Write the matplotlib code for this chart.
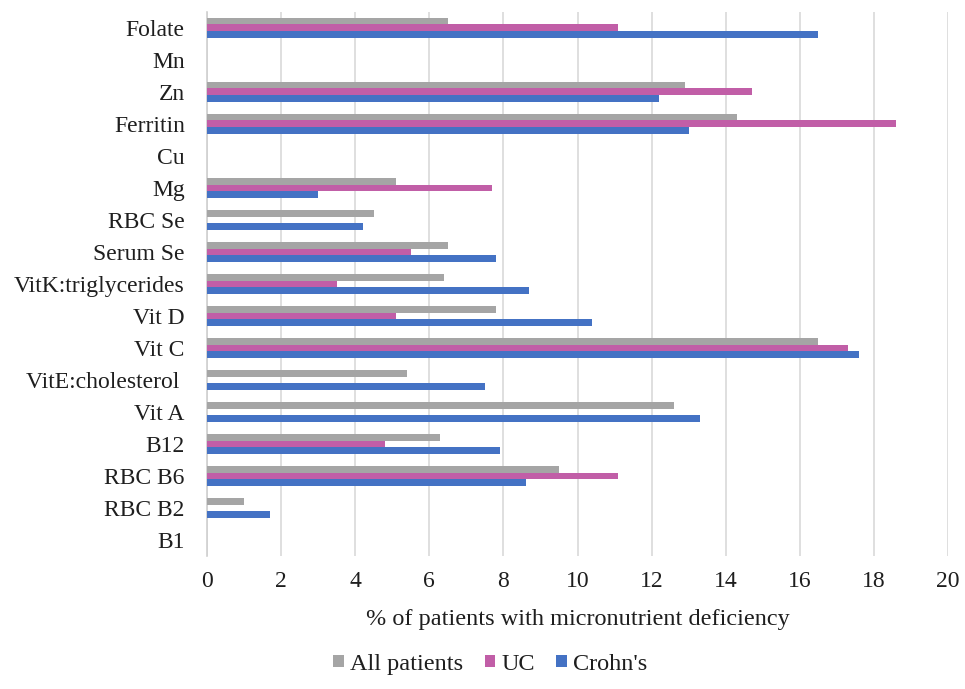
import numpy as np
import matplotlib.pyplot as plt

plt.rcParams["font.family"] = ["Liberation Serif", "DejaVu Serif"]

# categories from top to bottom
nutrients = ["Folate", "Mn", "Zn", "Ferritin", "Cu", "Mg", "RBC Se", "Serum Se",
             "VitK:triglycerides", "Vit D", "Vit C", "VitE:cholesterol ", "Vit A",
             "B12", "RBC B6", "RBC B2", "B1"]
all_patients = [6.5, 0, 12.9, 14.3, 0, 5.1, 4.5, 6.5, 6.4, 7.8, 16.5, 5.4, 12.6,
                6.3, 9.5, 1.0, 0]
uc = [11.1, 0, 14.7, 18.6, 0, 7.7, 0, 5.5, 3.5, 5.1, 17.3, 0, 0,
      4.8, 11.1, 0, 0]
crohns = [16.5, 0, 12.2, 13.0, 0, 3.0, 4.2, 7.8, 8.7, 10.4, 17.6, 7.5, 13.3,
          7.9, 8.6, 1.7, 0]
xticks = np.arange(0, 21, 2)

fig = plt.figure(figsize=(9.65, 6.89), dpi=100)
ax = fig.add_axes([0.2145, 0.193, 0.768, 0.79])

y = np.arange(len(nutrients))
h = 0.205
series = [(all_patients, "All patients", "#a5a5a5", -h),
          (uc, "UC", "#c15ea7", 0),
          (crohns, "Crohn's", "#4472c4", h)]
for vals, label, color, off in series:
    ax.barh(y + off, vals, height=h, color=color, label=label, zorder=3)

ax.set_ylim(len(nutrients) - 0.5, -0.5)
ax.set_xlim(0, 20)
ax.set_xticks(xticks)
ax.set_yticks(y)
ax.set_yticklabels(nutrients)
ax.tick_params(axis="both", length=0, labelsize=17, colors="#1e1e1e")
ax.tick_params(axis="y", pad=16)
ax.tick_params(axis="x", pad=11)
ax.grid(axis="x", color="#d9d9d9", linewidth=1.2, zorder=0)
for s in ["top", "right", "bottom"]:
    ax.spines[s].set_visible(False)
ax.spines["left"].set_color("#d0d0d0")
ax.spines["left"].set_linewidth(1.2)

ax.set_xlabel("% of patients with micronutrient deficiency", fontsize=17.5,
              color="#1e1e1e", labelpad=12)

handles, labels = ax.get_legend_handles_labels()
fig.legend(handles, labels, loc="center", bbox_to_anchor=(0.508, 0.036), ncol=3,
           frameon=False, fontsize=17.5, handlelength=0.42, handleheight=0.42,
           handletextpad=0.25, columnspacing=0.9, labelcolor="#1e1e1e")

fig.savefig("out.png", dpi=100)
